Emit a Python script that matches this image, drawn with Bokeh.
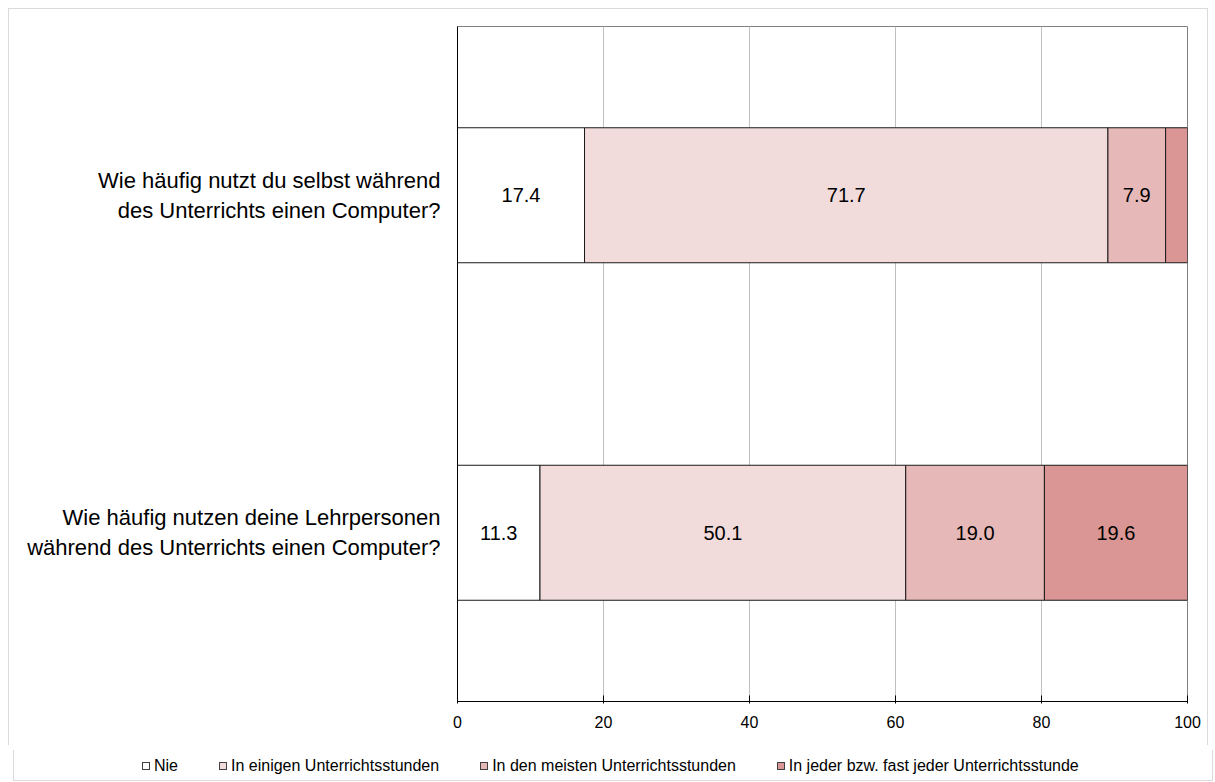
from bokeh.plotting import figure
from bokeh.models import ColumnDataSource, Range1d, FixedTicker, Div
from bokeh.layouts import column
from bokeh.core.properties import value
from bokeh.embed import file_html
from bokeh.resources import INLINE

categories = ["Wie häufig nutzt du selbst während\ndes Unterrichts einen Computer?",
              "Wie häufig nutzen deine Lehrpersonen\nwährend des Unterrichts einen Computer?"]
series_names = ["Nie", "In einigen Unterrichtsstunden", "In den meisten Unterrichtsstunden",
                "In jeder bzw. fast jeder Unterrichtsstunde"]
nie = [17.4, 11.3]
einige = [71.7, 50.1]
meisten = [7.9, 19.0]
jeder = [3.0, 19.6]
colors = ["#FFFFFF", "#F2DCDB", "#E6B9B8", "#D99694"]
x_ticks = [0, 20, 40, 60, 80, 100]

FONT = "Liberation Sans"
BORDER = "#DADADA"
G = f"linear-gradient({BORDER},{BORDER})"

n = len(categories)
ypos = [n - i - 0.5 for i in range(n)]

p = figure(width=1215, height=745, frame_width=730, frame_height=675,
           min_border_left=457, min_border_right=28, min_border_top=26, min_border_bottom=44,
           x_range=Range1d(0, 100), y_range=Range1d(0, n),
           output_backend="svg", toolbar_location=None, tools="")

p.background_fill_color = "white"
p.border_fill_alpha = 0
p.styles = {"background-color": "white",
            "background-image": f"{G}, {G}, {G}",
            "background-size": "1px 737px, 1px 737px, 1200px 1px",
            "background-position": "8px 8px, 1207px 8px, 8px 8px",
            "background-repeat": "no-repeat"}
p.outline_line_color = "#808080"
p.outline_line_width = 1

p.xgrid.ticker = FixedTicker(ticks=x_ticks)
p.xgrid.grid_line_color = "#C0C0C0"
p.ygrid.grid_line_color = None

xa = p.xaxis[0]
xa.ticker = FixedTicker(ticks=x_ticks)
xa.axis_line_color = "black"
xa.major_tick_line_color = "black"
xa.major_tick_in = 6
xa.major_tick_out = 2
xa.minor_tick_line_color = None
xa.major_label_text_font = FONT
xa.major_label_text_font_size = "16px"
xa.major_label_text_color = "black"
xa.major_label_standoff = 12

ya = p.yaxis[0]
ya.ticker = FixedTicker(ticks=ypos)
ya.major_label_overrides = {y: c for y, c in zip(ypos, categories)}
ya.axis_line_color = "black"
ya.major_tick_line_color = None
ya.minor_tick_line_color = None
ya.major_label_text_font = FONT
ya.major_label_text_font_size = "22px"
ya.major_label_text_color = "black"
ya.major_label_text_line_height = 1.2
ya.major_label_standoff = 11

series = [nie, einige, meisten, jeder]
left = [0.0] * n
label_x, label_y, label_t = [], [], []
for vals, col, name in zip(series, colors, series_names):
    right = [l + v for l, v in zip(left, vals)]
    src = ColumnDataSource(dict(y=ypos, left=left, right=right))
    p.hbar(y="y", left="left", right="right", height=0.4, source=src,
           fill_color=col, line_color="#1A1A1A", line_width=1)
    for i, v in enumerate(vals):
        if v >= 5:
            label_x.append((left[i] + right[i]) / 2)
            label_y.append(ypos[i])
            label_t.append(f"{v:.1f}")
    left = right

tsrc = ColumnDataSource(dict(x=label_x, y=label_y, t=label_t))
p.text(x="x", y="y", text="t", source=tsrc, text_align="center", text_baseline="middle",
       text_font=value(FONT), text_font_size="20px", text_color="black")

# legend strip (HTML) below the chart
item_html = "".join(
    f'<span style="display:inline-flex;align-items:center;margin-right:41px;">'
    f'<span style="display:inline-block;width:8px;height:8px;border:1px solid #404040;'
    f'background:{c};margin-right:4px;"></span>{nm}</span>'
    for c, nm in zip(colors, series_names))
legend_html = (f'<div style="display:flex;align-items:center;height:18px;padding-left:137px;'
               f'margin-top:7px;font-family:\'{FONT}\';font-size:16px;color:black;'
               f'white-space:nowrap;">{item_html}</div>')
lg = Div(text=legend_html, width=1215, height=37,
         styles={"background-color": "white",
                 "background-image": f"{G}, {G}, {G}",
                 "background-size": "1px 31px, 1px 31px, 1200px 1px",
                 "background-position": "8px 0px, 1207px 0px, 8px 30px",
                 "background-repeat": "no-repeat"})

layout = column(p, lg, spacing=0)

open("out.html", "w").write(file_html(layout, INLINE))
